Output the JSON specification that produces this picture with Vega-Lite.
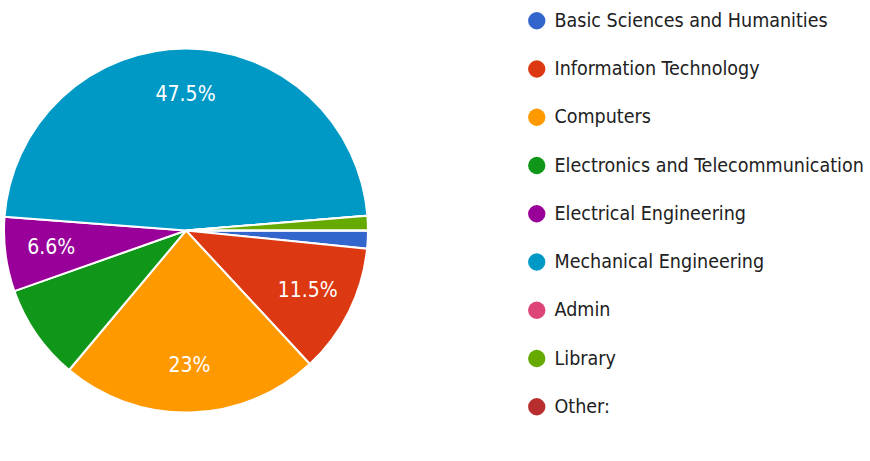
{
  "$schema": "https://vega.github.io/schema/vega-lite/v6.json",
  "width": 370,
  "height": 461,
  "padding": 0,
  "background": "white",
  "config": {"view": {"stroke": null}},
  "data": {
    "values": [
      {"dept": "Basic Sciences and Humanities", "pct": 1.6, "ord": 1, "label": ""},
      {"dept": "Information Technology", "pct": 11.5, "ord": 2, "label": "11.5%"},
      {"dept": "Computers", "pct": 23.0, "ord": 3, "label": "23%"},
      {"dept": "Electronics and Telecommunication", "pct": 8.5, "ord": 4, "label": ""},
      {"dept": "Electrical Engineering", "pct": 6.6, "ord": 5, "label": "6.6%"},
      {"dept": "Mechanical Engineering", "pct": 47.5, "ord": 6, "label": "47.5%"},
      {"dept": "Admin", "pct": 0, "ord": 7, "label": ""},
      {"dept": "Library", "pct": 1.3, "ord": 8, "label": ""},
      {"dept": "Other:", "pct": 0, "ord": 9, "label": ""}
    ]
  },
  "encoding": {
    "theta": {"field": "pct", "type": "quantitative", "stack": true, "scale": {"range": [1.5708, 7.854]}},
    "order": {"field": "ord", "type": "quantitative", "sort": "ascending"}
  },
  "layer": [
    {
      "mark": {"type": "arc", "outerRadius": 182, "stroke": "white", "strokeWidth": 2},
      "encoding": {
        "color": {
          "field": "dept",
          "type": "nominal",
          "sort": null,
          "scale": {
            "domain": ["Basic Sciences and Humanities", "Information Technology", "Computers", "Electronics and Telecommunication", "Electrical Engineering", "Mechanical Engineering", "Admin", "Library", "Other:"],
            "range": ["#3366cc", "#dc3912", "#ff9900", "#109618", "#990099", "#0099c6", "#dd4477", "#66aa00", "#b82e2e"]
          },
          "legend": {
            "title": null,
            "orient": "none",
            "legendX": 526,
            "legendY": 11,
            "symbolType": "circle",
            "symbolSize": 300,
            "symbolStrokeWidth": 0,
            "labelFont": "'DejaVu Sans Condensed', 'Liberation Sans Narrow', Roboto, sans-serif",
            "labelFontSize": 19.5,
            "labelColor": "#212121",
            "labelOffset": 8,
            "labelLimit": 400,
            "rowPadding": 27.25
          }
        }
      }
    },
    {
      "mark": {"type": "text", "radius": 136, "color": "white", "font": "'DejaVu Sans Condensed', 'Liberation Sans Narrow', Roboto, sans-serif", "fontSize": 21},
      "encoding": {"text": {"field": "label", "type": "nominal"}}
    }
  ]
}
